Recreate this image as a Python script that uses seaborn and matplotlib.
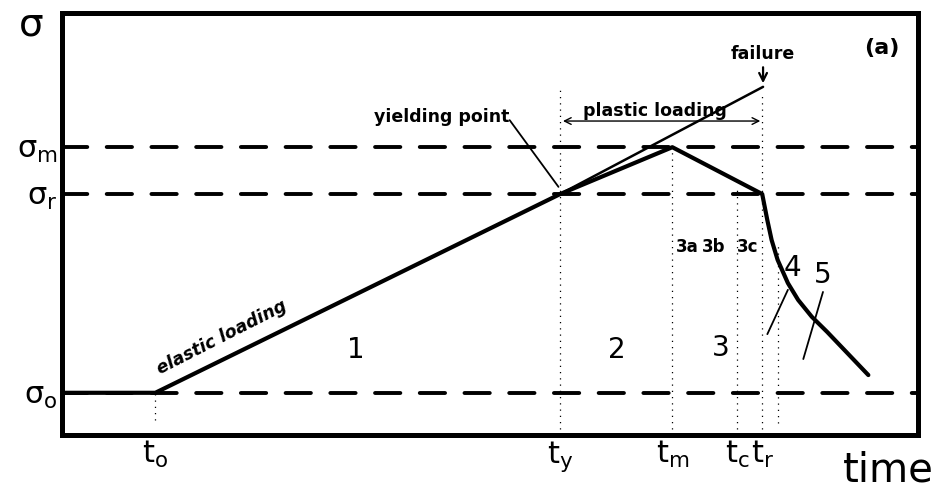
import matplotlib
matplotlib.use('Agg')
import matplotlib.pyplot as plt
import seaborn as sns
import pandas as pd

# ---- data (arbitrary units: time 0..10, stress 0..10) ----
time_marks = [r'$\mathregular{t_o}$', r'$\mathregular{t_y}$', r'$\mathregular{t_m}$',
              r'$\mathregular{t_c}$', r'$\mathregular{t_r}$']
time_values = [1.09, 5.82, 7.13, 7.89, 8.18]
stress_marks = [r'$\mathregular{σ_o}$', r'$\mathregular{σ_r}$', r'$\mathregular{σ_m}$']
stress_values = [1.0, 5.71, 6.82]

# main stress path
path_t = [0.0, 1.09, 5.82, 7.13, 8.18, 8.24, 8.29, 8.36, 8.48, 8.60, 8.76, 8.94, 9.42]
path_s = [1.0, 1.0, 5.71, 6.82, 5.71, 5.09, 4.62, 4.15, 3.60, 3.20, 2.80, 2.44, 1.42]

# elastic extrapolation up to failure
fail_t = [5.82, 8.19]
fail_s = [5.71, 8.25]

# dotted guide lines: x, top, bottom
guide_x = [1.09, 5.82, 7.13, 7.89, 8.18, 8.36]
guide_top = [1.0, 8.25, 6.82, 5.88, 8.06, 4.55]
guide_bottom = [0.36, 0.15, 0.15, 0.15, 0.15, 0.28]

region_labels = ['1', '2', '3']
region_x = [3.43, 6.48, 7.69]
region_y = [2.01, 2.01, 2.06]

sub_labels = ['3a', '3b', '3c']
sub_x = [7.30, 7.61, 8.01]
sub_y = 4.45

# ---- figure ----
sns.set_theme(style='white')
plt.rcParams['font.family'] = ['DejaVu Sans']
plt.rcParams['text.color'] = 'black'
plt.rcParams['xtick.color'] = 'black'
plt.rcParams['ytick.color'] = 'black'
fig = plt.figure(figsize=(9.44, 4.97), dpi=100)
ax = fig.add_axes([62/944, 1-435/497, (918-62)/944, (435-13)/497])
ax.set_xlim(0, 10)
ax.set_ylim(0, 10)

for sp in ax.spines.values():
    sp.set_linewidth(3.6)
    sp.set_color('black')

# dashed stress levels
for s in stress_values:
    ax.axhline(s, color='black', lw=2.8, ls=(0, (6.5, 5)), dash_capstyle='round', zorder=1)

# dotted guides
ax.vlines(guide_x, guide_bottom, guide_top, colors='black', lw=0.9, linestyles=(0, (1, 4)), zorder=1)

# elastic extension to failure
sns.lineplot(x=fail_t, y=fail_s, ax=ax, color='black', lw=1.8, sort=False, zorder=2)
# main path
df = pd.DataFrame({'t': path_t, 's': path_s})
sns.lineplot(data=df, x='t', y='s', ax=ax, color='black', lw=3.0, sort=False, zorder=3,
             solid_joinstyle='round')

# ticks
ax.set_xticks(time_values, labels=time_marks, fontsize=22)
ax.set_yticks(stress_values, labels=stress_marks, fontsize=22)
ax.tick_params(axis='both', length=0, pad=3, colors='black')
ax.set_xlabel('')
ax.set_ylabel('')

fig.text(31/944, 1-24/497, 'σ', fontsize=28, ha='center', va='center', color='black')
fig.text(888/944, 1-470/497, 'time', fontsize=29, ha='center', va='center', color='black')

# annotations
bold = dict(fontsize=12.5, fontweight='bold', color='black')
ax.text(9.58, 9.17, '(a)', ha='center', va='center', fontsize=16, fontweight='bold', color='black')
ax.text(8.19, 9.02, 'failure', ha='center', va='center', **bold)
ax.annotate('', xy=(8.19, 8.27), xytext=(8.19, 8.78),
            arrowprops=dict(arrowstyle='->', lw=1.6, color='black', mutation_scale=14))
ax.annotate('', xy=(5.82, 7.44), xytext=(8.19, 7.44),
            arrowprops=dict(arrowstyle='<->', lw=1.0, color='black', mutation_scale=12))
ax.text(6.93, 7.68, 'plastic loading', ha='center', va='center', **bold)
ax.text(4.44, 7.53, 'yielding point', ha='center', va='center', **bold)
ax.plot([5.23, 5.80], [7.46, 5.88], color='black', lw=1.3)
ax.text(1.87, 2.32, 'elastic loading', ha='center', va='center', rotation=27,
        fontstyle='italic', **bold)

for lab, x, y in zip(region_labels, region_x, region_y):
    ax.text(x, y, lab, ha='center', va='center', fontsize=20, color='black')
for lab, x in zip(sub_labels, sub_x):
    ax.text(x, sub_y, lab, ha='center', va='center', fontsize=12, fontweight='bold', color='black')

ax.text(8.53, 3.95, '4', ha='center', va='center', fontsize=20, color='black')
ax.text(8.89, 3.78, '5', ha='center', va='center', fontsize=20, color='black')
ax.plot([8.24, 8.48], [2.39, 3.44], color='black', lw=1.3)
ax.plot([8.66, 8.89], [1.80, 3.39], color='black', lw=1.3)

fig.savefig('out.png', dpi=100)
